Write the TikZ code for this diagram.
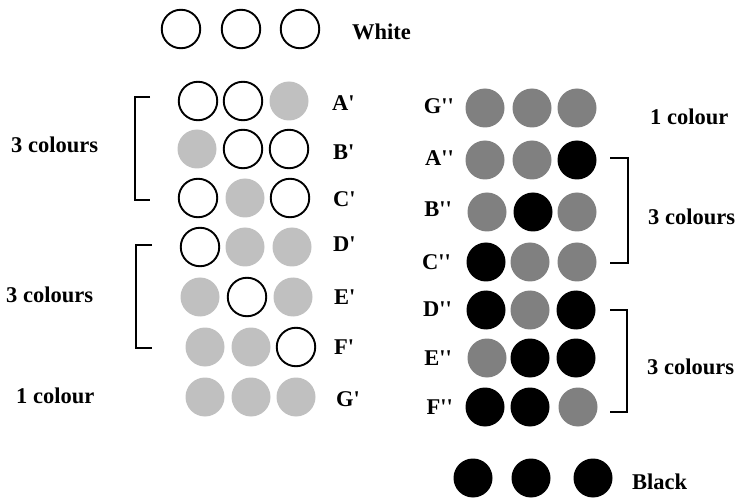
\documentclass[tikz,border=0pt]{standalone}
\usepackage{fontspec}
\newfontfamily\labf{Liberation Serif}
\definecolor{lgray}{HTML}{C0C0C0}
\definecolor{mgray}{HTML}{808080}
\tikzset{
  dot/.style={circle, minimum size=39pt, inner sep=0pt},
  wc/.style={dot, draw=black, line width=1.9pt, fill=white, minimum size=38.5pt},
  lg/.style={dot, fill=lgray},
  mg/.style={dot, fill=mgray},
  bk/.style={dot, fill=black},
  lbl/.style={font=\labf\bfseries\fontsize{22.5}{26}\selectfont, inner sep=0pt},
  brk/.style={line width=2pt}
}
\begin{document}
\begin{tikzpicture}[x=1pt,y=-1pt]
\useasboundingbox (0,0) rectangle (740,500);
% top white
\node[wc] (w1) at (181,29) {};
\node[wc] (w2) at (241,29) {};
\node[wc] (w3) at (300,29) {};
\node[lbl, anchor=west] (white) at (352,32) {White};
% left rows
\node[wc] (a1) at (198,101) {};
\node[wc] (a2) at (243,101) {};
\node[lg] (a3) at (289,101) {};
\node[lbl, anchor=west] (al) at (332,103) {A'};
\node[lg] (b1) at (197,149) {};
\node[wc] (b2) at (243,149) {};
\node[wc] (b3) at (289,149) {};
\node[lbl, anchor=west] (bl) at (333,152) {B'};
\node[wc] (c1) at (198,198) {};
\node[lg] (c2) at (245,198) {};
\node[wc] (c3) at (290,198) {};
\node[lbl, anchor=west] (cl) at (333,199) {C'};
\node[wc] (d1) at (200,247) {};
\node[lg] (d2) at (245,247) {};
\node[lg] (d3) at (292,247) {};
\node[lbl, anchor=west] (dl) at (333,244) {D'};
\node[lg] (e1) at (200,297) {};
\node[wc] (e2) at (247,297) {};
\node[lg] (e3) at (293,297) {};
\node[lbl, anchor=west] (el) at (334,297) {E'};
\node[lg] (f1) at (205,347) {};
\node[lg] (f2) at (251,347) {};
\node[wc] (f3) at (296,347) {};
\node[lbl, anchor=west] (fl) at (334,347) {F'};
\node[lg] (g1) at (205,397) {};
\node[lg] (g2) at (251,397) {};
\node[lg] (g3) at (296,397) {};
\node[lbl, anchor=west] (gl) at (336,399) {G'};
\node[lbl, anchor=west] (lc1) at (11,145) {3 colours};
\node[lbl, anchor=west] (lc2) at (6,295) {3 colours};
\node[lbl, anchor=west] (lc3) at (16,396) {1 colour};
% left brackets
\coordinate (lb1a) at (150,97);
\coordinate (lb1b) at (135,97);
\coordinate (lb1c) at (135,200);
\coordinate (lb1d) at (150,200);
\draw[brk] (lb1a) -- (lb1b) -- (lb1c) -- (lb1d);
\coordinate (lb2a) at (152,245);
\coordinate (lb2b) at (136,245);
\coordinate (lb2c) at (136,348);
\coordinate (lb2d) at (152,348);
\draw[brk] (lb2a) -- (lb2b) -- (lb2c) -- (lb2d);
% right rows
\node[mg] (gg1) at (485,108) {};
\node[mg] (gg2) at (532,108) {};
\node[mg] (gg3) at (577,108) {};
\node[lbl, anchor=east] (ggl) at (454,106) {G''};
\node[mg] (aa1) at (485,160) {};
\node[mg] (aa2) at (532,160) {};
\node[bk] (aa3) at (577,160) {};
\node[lbl, anchor=east] (aal) at (454,158) {A''};
\node[mg] (bb1) at (487,212) {};
\node[bk] (bb2) at (533,212) {};
\node[mg] (bb3) at (577,212) {};
\node[lbl, anchor=east] (bbl) at (452,209) {B''};
\node[bk] (cc1) at (486,262) {};
\node[mg] (cc2) at (530,262) {};
\node[mg] (cc3) at (577,262) {};
\node[lbl, anchor=east] (ccl) at (451,262) {C''};
\node[bk] (dd1) at (486,310) {};
\node[mg] (dd2) at (530,310) {};
\node[bk] (dd3) at (576,310) {};
\node[lbl, anchor=east] (ddl) at (452,309) {D''};
\node[mg] (ee1) at (487,358) {};
\node[bk] (ee2) at (530,358) {};
\node[bk] (ee3) at (576,358) {};
\node[lbl, anchor=east] (eel) at (452,358) {E''};
\node[bk] (ff1) at (485,407) {};
\node[bk] (ff2) at (530,407) {};
\node[mg] (ff3) at (578,407) {};
\node[lbl, anchor=east] (ffl) at (453,407) {F''};
\node[lbl, anchor=west] (rc1) at (650,117) {1 colour};
\node[lbl, anchor=west] (rc2) at (648,217) {3 colours};
\node[lbl, anchor=west] (rc3) at (647,367) {3 colours};
% right brackets
\coordinate (rb1a) at (610,158);
\coordinate (rb1b) at (628,158);
\coordinate (rb1c) at (628,263);
\coordinate (rb1d) at (610,263);
\draw[brk] (rb1a) -- (rb1b) -- (rb1c) -- (rb1d);
\coordinate (rb2a) at (610,310);
\coordinate (rb2b) at (627,310);
\coordinate (rb2c) at (627,412);
\coordinate (rb2d) at (610,412);
\draw[brk] (rb2a) -- (rb2b) -- (rb2c) -- (rb2d);
% bottom black
\node[bk] (k1) at (473,478) {};
\node[bk] (k2) at (531,478) {};
\node[bk] (k3) at (593,478) {};
\node[lbl, anchor=west] (black) at (632,482) {Black};
\end{tikzpicture}
\end{document}
